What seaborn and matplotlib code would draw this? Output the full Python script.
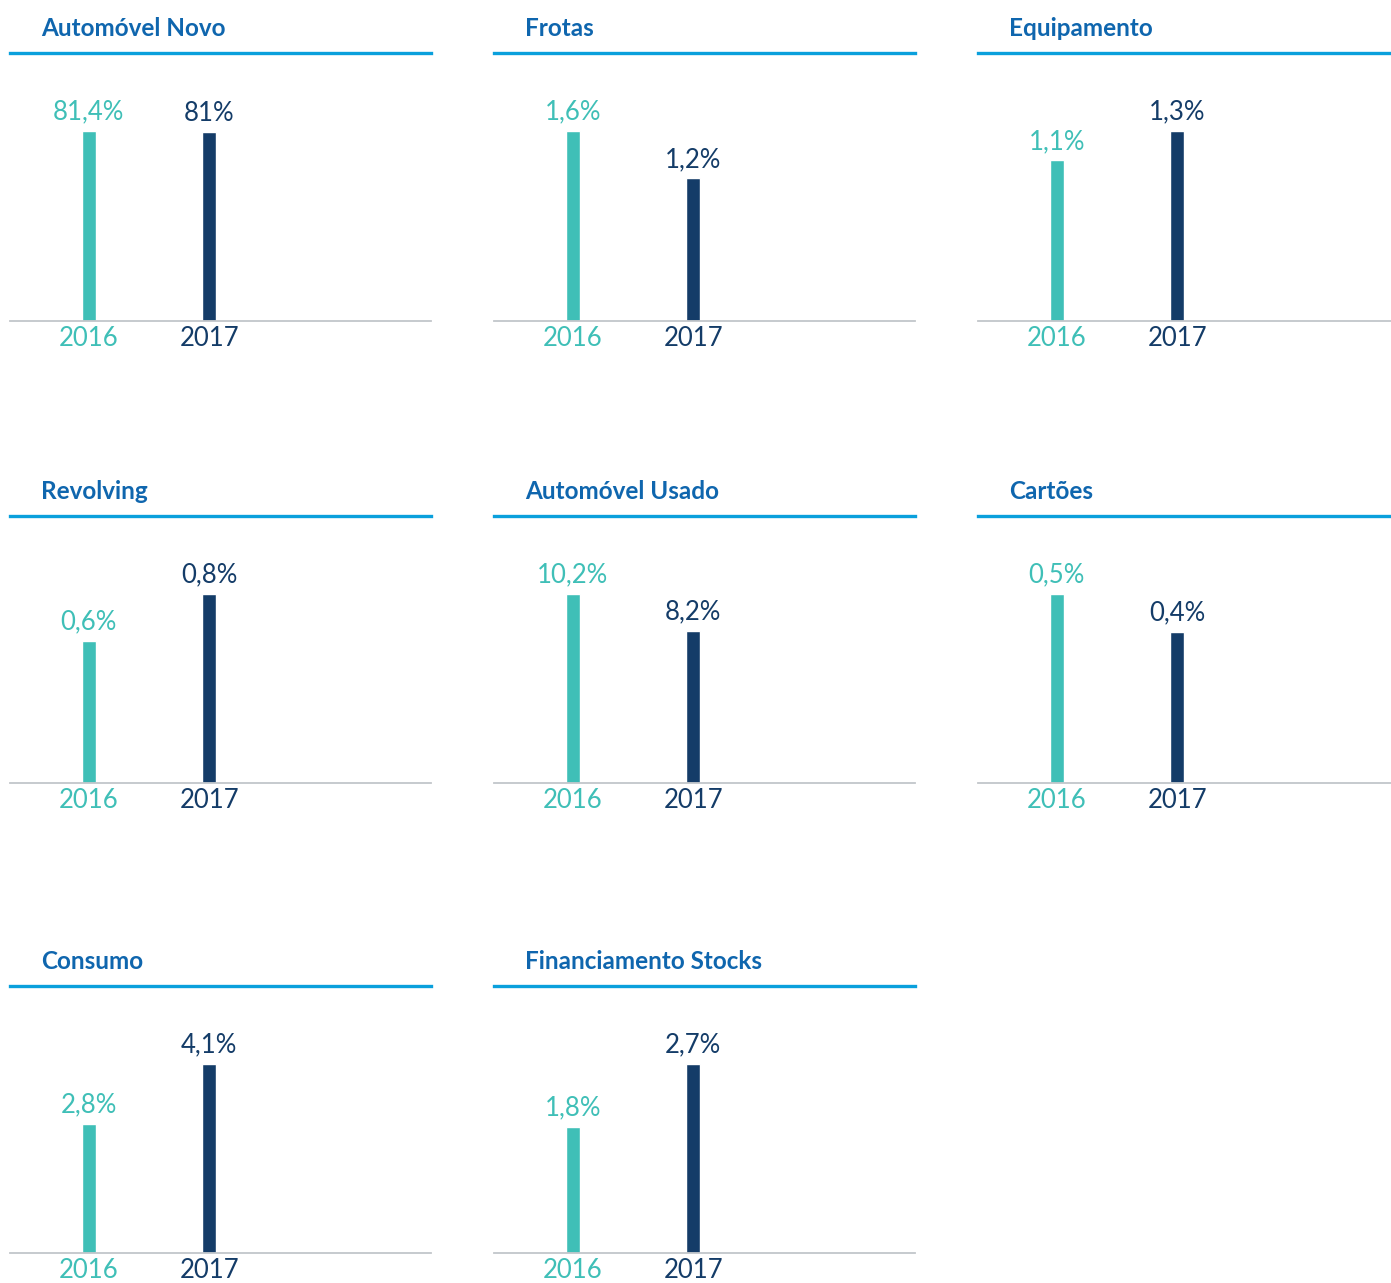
import matplotlib
matplotlib.use("Agg")
import matplotlib.pyplot as plt
import seaborn as sns
import pandas as pd

# Portfolio share by product, 2016 vs 2017 (%)
products = ["Automóvel Novo", "Frotas", "Equipamento",
            "Revolving", "Automóvel Usado", "Cartões",
            "Consumo", "Financiamento Stocks"]
years = ["2016", "2017"]
share_2016 = [81.4, 1.6, 1.1, 0.6, 10.2, 0.5, 2.8, 1.8]
share_2017 = [81.0, 1.2, 1.3, 0.8, 8.2, 0.4, 4.1, 2.7]
labels_2016 = ["81,4%", "1,6%", "1,1%", "0,6%", "10,2%", "0,5%", "2,8%", "1,8%"]
labels_2017 = ["81%", "1,2%", "1,3%", "0,8%", "8,2%", "0,4%", "4,1%", "2,7%"]

TEAL = "#3fbfb7"
NAVY = "#143c68"
TITLE_BLUE = "#0f66ae"
RULE_BLUE = "#0aa0dc"
BASE_GREY = "#c2c6ca"

sns.set_theme(style="white")
plt.rcParams["font.family"] = ["Lato", "DejaVu Sans"]

W, H = 1391, 1283
fig = plt.figure(figsize=(W / 100, H / 100), dpi=100)

col_left = [10, 494, 978]
row_top = [53, 516, 986]
row_base = [321, 783, 1253]
panel_w = 421

palette = {"2016": TEAL, "2017": NAVY}

for i, name in enumerate(products):
    r, c = divmod(i, 3)
    x0 = col_left[c]
    top, base = row_top[r], row_base[r]
    ax = fig.add_axes([x0 / W, 1 - base / H, panel_w / W, (base - top) / H])

    df = pd.DataFrame({"year": years, "share": [share_2016[i], share_2017[i]]})
    sns.barplot(data=df, x="year", y="share", hue="year", palette=palette,
                width=0.117, legend=False, ax=ax, saturation=1)

    vmax = max(share_2016[i], share_2017[i])
    ax.set_xlim(-0.655, 2.845)
    ax.set_ylim(0, vmax * 1.41)

    for j, (val, lab, col) in enumerate(zip([share_2016[i], share_2017[i]],
                                            [labels_2016[i], labels_2017[i]],
                                            [TEAL, NAVY])):
        ax.annotate(lab, (j, val), xytext=(0, 4.5), textcoords="offset points",
                    ha="center", va="bottom", color=col, fontsize=18.5,
                    fontweight="normal")
        ax.annotate(years[j], (j, 0), xytext=(0, -3.5), textcoords="offset points",
                    ha="center", va="top", color=col, fontsize=18.5,
                    fontweight="normal")

    ax.set_xticks([])
    ax.set_yticks([])
    ax.set_xlabel("")
    ax.set_ylabel("")
    for s in ("left", "right"):
        ax.spines[s].set_visible(False)
    ax.spines["top"].set_color(RULE_BLUE)
    ax.spines["top"].set_linewidth(2.4)
    ax.spines["bottom"].set_color(BASE_GREY)
    ax.spines["bottom"].set_linewidth(1.3)

    ax.text(31 / panel_w, 1 + 13 / (base - top), name, transform=ax.transAxes,
            ha="left", va="bottom", color=TITLE_BLUE, fontsize=17.5,
            fontweight="bold")

fig.savefig("out.png", dpi=100, facecolor="white")
